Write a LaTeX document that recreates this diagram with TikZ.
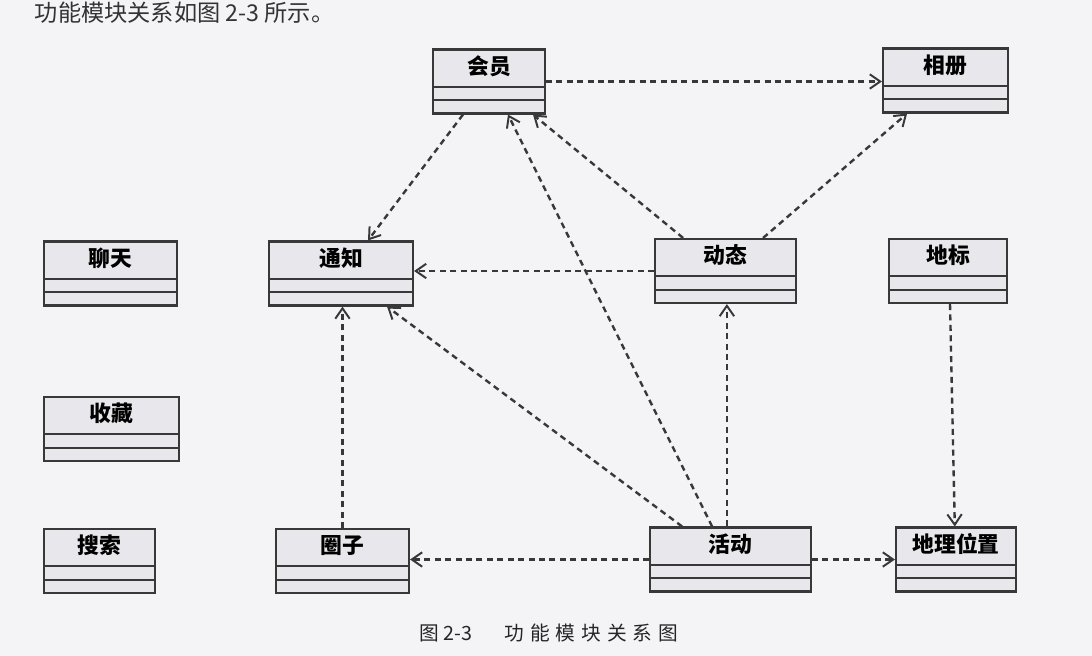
\documentclass[tikz,border=0pt]{standalone}
\usepackage{fontspec}
\newfontfamily\cjk{Noto Sans CJK SC}
\usepackage{xcolor}
\usepackage{tikz}
\usetikzlibrary{arrows.meta}
\definecolor{paper}{HTML}{F4F4F6}
\definecolor{boxfill}{HTML}{E8E8EC}
\definecolor{darkline}{HTML}{383838}

\begin{document}
\begin{tikzpicture}[x=0.025cm, y=-0.025cm,
  umlclass/.style={draw=darkline, line width=1.5pt, fill=boxfill,
    inner xsep=0pt, inner ysep=0pt, text height=0.62cm, text depth=0.98cm,
    font=\cjk\bfseries\fontsize{15.5}{17}\selectfont,
    path picture={\draw[darkline, line width=1.5pt]
      ([yshift=0.33cm]path picture bounding box.south west) -- ([yshift=0.33cm]path picture bounding box.south east)
      ([yshift=0.67cm]path picture bounding box.south west) -- ([yshift=0.67cm]path picture bounding box.south east);}},
  dep/.style={draw=darkline, line width=1.7pt, dash pattern=on 1.5mm off 1.1mm,
    -{Straight Barb[length=2.6mm,width=3.6mm,line width=1.4pt]}} ]

	\fill[paper] (0,0) rectangle (1092,656);
	\useasboundingbox (0,0) rectangle (1092,656);
	\node[anchor=west, font=\cjk\fontsize{16.5}{18}\selectfont, text=black!80] (intro) at (30,13) {功能模块关系如图 2-3 所示。};

	% classes
	\node[umlclass, minimum width=2.8cm]   (huiyuan)    at (489,81.5)   {会员};
	\node[umlclass, minimum width=3.125cm] (xiangce)    at (945.5,80.5) {相册};
	\node[umlclass, minimum width=3.325cm] (liaotian)   at (110.5,273.5) {聊天};
	\node[umlclass, minimum width=3.6cm]   (tongzhi)    at (341,273.5)  {通知};
	\node[umlclass, minimum width=3.525cm] (dongtai)    at (725.5,271)  {动态};
	\node[umlclass, minimum width=2.95cm]  (dibiao)     at (948,271)    {地标};
	\node[umlclass, minimum width=3.375cm] (shoucang)   at (111.5,429)  {收藏};
	\node[umlclass, minimum width=2.775cm] (sousuo)     at (99.5,561)   {搜索};
	\node[umlclass, minimum width=3.325cm] (quanzi)     at (342.5,561)  {圈子};
	\node[umlclass, minimum width=4.025cm] (huodong)    at (730.5,559.5) {活动};
	\node[umlclass, minimum width=3.0cm]   (diliweizhi) at (956,559.5)  {地理位置};

	% dependencies
	\draw[dep] (huiyuan.east) -- (huiyuan.east -| xiangce.west);
	\draw[dep] ([xshift=-0.65cm]huiyuan.south) -- ([xshift=0.675cm]tongzhi.north);
	\draw[dep] ([xshift=-1.06cm]dongtai.north) -- ([xshift=1.1cm]huiyuan.south);
	\draw[dep] ([xshift=0.94cm]dongtai.north) -- ([xshift=-0.96cm]xiangce.south);
	\draw[dep] (dongtai.west) -- (dongtai.west -| tongzhi.east);
	\draw[dep] ([xshift=-0.09cm]huodong.north) -- ([xshift=-0.09cm]huodong.north |- dongtai.south);
	\draw[dep] ([xshift=-0.46cm]huodong.north) -- ([xshift=0.475cm]huiyuan.south);
	\draw[dep] ([xshift=-1.21cm]huodong.north) -- ([xshift=1.15cm]tongzhi.south);
	\draw[dep] (quanzi.north) -- (quanzi.north |- tongzhi.south);
	\draw[dep] (huodong.west) -- (huodong.west -| quanzi.east);
	\draw[dep] (huodong.east) -- (huodong.east -| diliweizhi.west);
	\draw[dep] ([xshift=0.05cm]dibiao.south) -- ([xshift=-0.03cm]diliweizhi.north);

	\node[font=\cjk\fontsize{14}{16}\selectfont, text=black!85] (caption) at (549,633)
	  {图 2-3\hspace{0.8cm}功\hspace{0.15cm}能\hspace{0.15cm}模\hspace{0.15cm}块\hspace{0.15cm}关\hspace{0.15cm}系\hspace{0.15cm}图};
\end{tikzpicture}
\end{document}
